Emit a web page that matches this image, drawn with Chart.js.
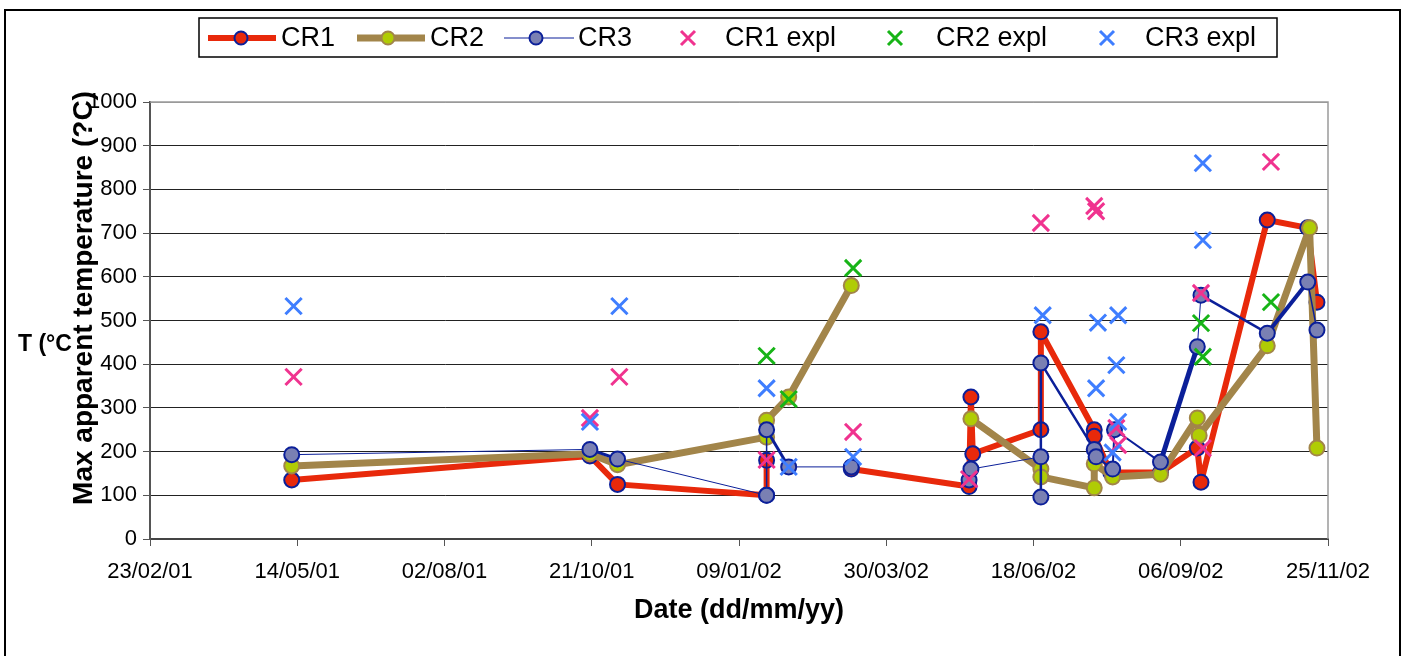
<!DOCTYPE html>
<html>
<head>
<meta charset="utf-8">
<script src="https://cdn.jsdelivr.net/npm/chart.js@4.4.0/dist/chart.umd.min.js"></script>
<style>
  html, body { margin: 0; padding: 0; background: #fff; }
  #wrap { width: 1406px; height: 656px; }
</style>
</head>
<body>
<div id="wrap"><canvas id="tempChart" width="1406" height="656"></canvas></div>
<script>
// axis ticks
const xTickLabels = ['23/02/01', '14/05/01', '02/08/01', '21/10/01', '09/01/02', '30/03/02', '18/06/02', '06/09/02', '25/11/02'];
const yMin = 0, yMax = 1000, yStep = 100;

// CR1
const cr1Dates = ['11/05/01', '20/10/01', '04/11/01', '24/01/02', '24/01/02', '20/02/02', '11/03/02', '14/05/02', '15/05/02', '16/05/02',
  '22/06/02', '22/06/02', '21/07/02', '21/07/02', '30/07/02', '26/08/02', '15/09/02', '17/09/02', '23/10/02', '14/11/02', '19/11/02'];
const cr1Values = [135, 190, 125, 100, 180, null, 160, 120, 325, 195, 250, 474, 250, 235, 152, 152, 208, 130, 730, 712, 542];

// CR2
const cr2Dates = ['11/05/01', '20/10/01', '04/11/01', '24/01/02', '24/01/02', '05/02/02', '11/03/02', '12/04/02', '15/05/02', '22/06/02',
  '22/06/02', '21/07/02', '21/07/02', '31/07/02', '26/08/02', '15/09/02', '16/09/02', '23/10/02', '15/11/02', '19/11/02'];
const cr2Values = [167, 195, 170, 233, 272, 325, 580, null, 275, 160, 142, 117, 172, 142, 148, 277, 237, 442, 712, 208];

// CR3
const cr3Dates = ['11/05/01', '20/10/01', '04/11/01', '24/01/02', '24/01/02', '05/02/02', '11/03/02', '12/04/02', '14/05/02', '15/05/02',
  '22/06/02', '22/06/02', '22/06/02', '21/07/02', '22/07/02', '31/07/02', '01/08/02', '26/08/02', '15/09/02', '17/09/02',
  '23/10/02', '14/11/02', '19/11/02'];
const cr3Values = [193, 205, 183, 100, 250, 165, 165, null, 135, 160, 188, 96, 403, 205, 188, 160, 250, 176, 440, 558, 471, 588, 478];
// line width of each CR3 segment (by start point)
const cr3SegmentWidths = [1, 3, 1, 1.5, 3, 1, 1, 1, 1, 1, 1.5, 2.5, 2.5, 2, 2, 2, 2, 5, 1, 2.5, 4, 1.5];

// explosions
const cr1ExplDates = ['12/05/01', '20/10/01', '05/11/01', '24/01/02', '12/03/02', '14/05/02', '22/06/02', '21/07/02', '22/07/02',
  '02/08/02', '03/08/02', '17/09/02', '18/09/02', '25/10/02'];
const cr1ExplValues = [371, 277, 371, 181, 245, 137, 723, 762, 750, 254, 215, 563, 208, 863];

const cr2ExplDates = ['24/01/02', '05/02/02', '12/03/02', '17/09/02', '18/09/02', '25/10/02'];
const cr2ExplValues = [419, 320, 620, 494, 417, 542];

const cr3ExplDates = ['12/05/01', '20/10/01', '05/11/01', '24/01/02', '05/02/02', '12/03/02', '23/06/02', '22/07/02', '23/07/02',
  '03/08/02', '02/08/02', '03/08/02', '31/07/02', '18/09/02', '18/09/02'];
const cr3ExplValues = [533, 268, 533, 345, 165, 188, 512, 345, 495, 512, 398, 268, 198, 860, 684];

const BASE = Date.UTC(2001, 1, 23);
function toDay(s) {
  let [d, m, y] = s.split('/').map(Number);
  return Math.round((Date.UTC(2000 + y, m - 1, d) - BASE) / 86400000);
}
function fromDay(n) {
  let dt = new Date(BASE + n * 86400000);
  let p = (v) => String(v).padStart(2, '0');
  return p(dt.getUTCDate()) + '/' + p(dt.getUTCMonth() + 1) + '/' + p(dt.getUTCFullYear() % 100);
}
function series(dates, values) {
  return dates.map((d, i) => ({ x: toDay(d), y: values[i] }));
}

const RED = '#E8290B', NAVY = '#0B1F99', TAN = '#A2854A', LIME = '#B0CC05', SLATE = '#7A80B3';
const PINK = '#F0338F', GREEN = '#17B417', BLUE = '#3F7EFF';
const FONT = "'Liberation Sans', Arial, sans-serif";

const lineSet = (label, data, color, width, fill, border, order) => ({
  label: label, data: data, showLine: true, borderColor: color, borderWidth: width,
  borderJoinStyle: 'round',
  pointBackgroundColor: fill, pointBorderColor: border, pointBorderWidth: 2, pointRadius: 7.5,
  pointStyle: 'circle', order: order
});
const crossSet = (label, data, color, order) => ({
  label: label, data: data, showLine: false, borderColor: color, backgroundColor: color,
  pointStyle: 'crossRot', pointRadius: 11.5, pointBorderWidth: 3, pointBorderColor: color, order: order
});

const datasets = [
  lineSet('CR1', series(cr1Dates, cr1Values), RED, 6, RED, NAVY, 6),
  lineSet('CR2', series(cr2Dates, cr2Values), TAN, 7, LIME, TAN, 5),
  Object.assign(lineSet('CR3', series(cr3Dates, cr3Values), NAVY, 1, SLATE, NAVY, 4), {
    segment: { borderWidth: (c) => cr3SegmentWidths[c.p0DataIndex] || 1 }
  }),
  crossSet('CR1 expl', series(cr1ExplDates, cr1ExplValues), PINK, 3),
  crossSet('CR2 expl', series(cr2ExplDates, cr2ExplValues), GREEN, 2),
  crossSet('CR3 expl', series(cr3ExplDates, cr3ExplValues), BLUE, 1)
];

// frame, titles and legend
const decor = {
  id: 'decor',
  beforeDraw(chart) {
    let ctx = chart.ctx;
    ctx.save();
    ctx.fillStyle = '#fff';
    ctx.fillRect(0, 0, chart.width, chart.height);
    ctx.restore();
  },
  afterDraw(chart) {
    let ctx = chart.ctx;
    let area = chart.chartArea;
    ctx.save();
    // plot border top / right
    ctx.strokeStyle = '#9a9a9a';
    ctx.lineWidth = 1.5;
    ctx.beginPath();
    ctx.moveTo(area.left, area.top);
    ctx.lineTo(area.right, area.top);
    ctx.lineTo(area.right, area.bottom);
    ctx.stroke();
    // outer frame
    ctx.strokeStyle = '#000';
    ctx.lineWidth = 2;
    ctx.strokeRect(5, 10, 1395, 660);

    // y titles
    ctx.fillStyle = '#000';
    ctx.font = 'bold 23px ' + FONT;
    ctx.textAlign = 'left';
    ctx.textBaseline = 'alphabetic';
    ctx.fillText('T (°C', 18, 351);
    ctx.save();
    ctx.translate(84, 298);
    ctx.rotate(-Math.PI / 2);
    ctx.font = 'bold 28px ' + FONT;
    ctx.textAlign = 'center';
    ctx.textBaseline = 'middle';
    ctx.fillText('Max apparent temperature (?C)', 0, 0);
    ctx.restore();

    // legend
    ctx.strokeStyle = '#000';
    ctx.lineWidth = 1.5;
    ctx.strokeRect(199, 18, 1078, 39);
    let cy = 38;
    let items = [
      { ds: 0, x0: 208, x1: 276, mx: 241, tx: 281 },
      { ds: 1, x0: 357, x1: 425, mx: 388, tx: 430 },
      { ds: 2, x0: 504, x1: 574, mx: 536, tx: 578 },
      { ds: 3, mx: 688, tx: 725 },
      { ds: 4, mx: 895, tx: 936 },
      { ds: 5, mx: 1107, tx: 1145 }
    ];
    ctx.font = '27px ' + FONT;
    ctx.textBaseline = 'middle';
    ctx.textAlign = 'left';
    items.forEach((it) => {
      let ds = chart.data.datasets[it.ds];
      if (it.x0 !== undefined) {
        ctx.strokeStyle = ds.borderColor;
        ctx.lineWidth = ds.borderWidth;
        ctx.beginPath();
        ctx.moveTo(it.x0, cy);
        ctx.lineTo(it.x1, cy);
        ctx.stroke();
        ctx.beginPath();
        ctx.arc(it.mx, cy, 6.5, 0, Math.PI * 2);
        ctx.fillStyle = ds.pointBackgroundColor;
        ctx.fill();
        ctx.lineWidth = 2;
        ctx.strokeStyle = ds.pointBorderColor;
        ctx.stroke();
      } else {
        ctx.strokeStyle = ds.borderColor;
        ctx.lineWidth = 3;
        ctx.beginPath();
        ctx.moveTo(it.mx - 7, cy - 7);
        ctx.lineTo(it.mx + 7, cy + 7);
        ctx.moveTo(it.mx + 7, cy - 7);
        ctx.lineTo(it.mx - 7, cy + 7);
        ctx.stroke();
      }
      ctx.fillStyle = '#000';
      ctx.fillText(ds.label, it.tx, cy + 1);
    });
    ctx.restore();
  }
};

Chart.defaults.color = '#000';
Chart.defaults.font.family = FONT;

new Chart(document.getElementById('tempChart'), {
  type: 'scatter',
  data: { datasets: datasets },
  options: {
    responsive: false,
    animation: false,
    events: [],
    layout: { padding: { left: 0, top: 102, right: 78, bottom: 0 } },
    plugins: { legend: { display: false }, tooltip: { enabled: false } },
    scales: {
      x: {
        type: 'linear',
        min: toDay(xTickLabels[0]),
        max: toDay(xTickLabels[xTickLabels.length - 1]),
        afterFit: (s) => { s.height = 117; },
        afterBuildTicks: (s) => { s.ticks = xTickLabels.map((l) => ({ value: toDay(l) })); },
        ticks: {
          autoSkip: false, maxRotation: 0, padding: 13,
          font: { size: 22 },
          callback: (v) => fromDay(v)
        },
        grid: { drawOnChartArea: false, drawTicks: true, tickLength: 7, tickColor: '#555' },
        border: { display: true, color: '#444', width: 2 },
        title: {
          display: true, text: 'Date (dd/mm/yy)',
          font: { size: 27, weight: 'bold' },
          padding: { top: 0, bottom: 29 }
        }
      },
      y: {
        min: yMin, max: yMax,
        afterFit: (s) => { s.width = 150; },
        ticks: { stepSize: yStep, padding: 6, font: { size: 22 }, callback: (v) => String(v) },
        grid: {
          color: (c) => (c.tick && c.tick.value === yMax ? '#9a9a9a' : '#222'),
          lineWidth: 1, tickLength: 7, tickColor: '#555'
        },
        border: { display: true, color: '#555', width: 2 }
      }
    }
  },
  plugins: [decor]
});
</script>
</body>
</html>
